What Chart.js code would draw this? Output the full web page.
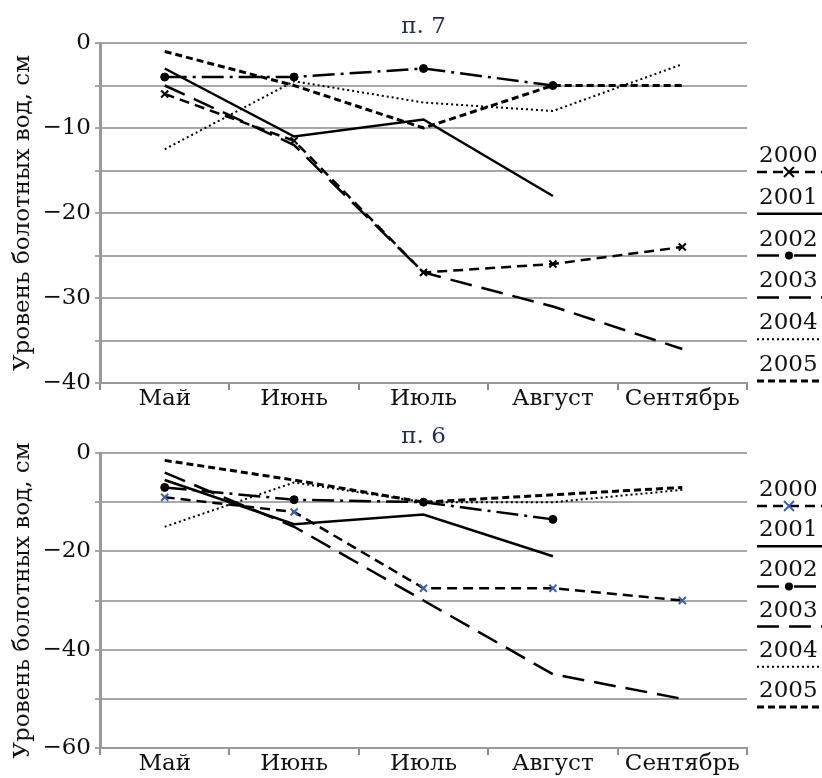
<!DOCTYPE html>
<html lang="ru">
<head>
<meta charset="UTF-8">
<title>Уровень болотных вод</title>
<script src="https://cdn.jsdelivr.net/npm/chart.js"></script>
<style>
  body { margin: 0; background: #fff; }
  .box { position: relative; width: 822px; }
</style>
</head>
<body>
<div class="box" style="height:412px"><canvas id="chart7"></canvas></div>
<div class="box" style="height:366px"><canvas id="chart6"></canvas></div>

<script>
// месяцы и годы
const months = ['Май', 'Июнь', 'Июль', 'Август', 'Сентябрь'];
const years = ['2000', '2001', '2002', '2003', '2004', '2005'];

// п. 7
const p7_2000 = [-6, -11.5, -27, -26, -24];
const p7_2001 = [-3, -11, -9, -18, null];
const p7_2002 = [-4, -4, -3, -5, null];
const p7_2003 = [-5, -12, -27, -31, -36];
const p7_2004 = [-12.5, -4.5, -7, -8, -2.5];
const p7_2005 = [-1, -5, -10, -5, -5];

// п. 6
const p6_2000 = [-9, -12, -27.5, -27.5, -30];
const p6_2001 = [-5.5, -14.5, -12.5, -21, null];
const p6_2002 = [-7, -9.5, -10, -13.5, null];
const p6_2003 = [-4, -15, -30, -45, -50];
const p6_2004 = [-15, -6, -10, -10, -7.5];
const p6_2005 = [-1.5, -5.5, -10, -8.5, -7];

const yTitle = 'Уровень болотных вод, см';
const FONT = '"DejaVu Serif", "Liberation Serif", serif';
const FS = 23;

// стиль линии для каждого года
function styleFor(i, markColor) {
    const s = [
        { borderDash: [10, 6], borderWidth: 2.5, pointStyle: 'crossRot', pointRadius: 5, pointBorderColor: markColor, pointBorderWidth: 2 },
        { borderDash: [], borderWidth: 2.5, pointRadius: 0 },
        { borderDash: [22, 6, 3, 6], borderWidth: 2.5, pointStyle: 'circle', pointRadius: 4, pointBorderColor: '#000', pointBackgroundColor: '#000', pointBorderWidth: 1 },
        { borderDash: [22, 10], borderWidth: 2.5, pointRadius: 0 },
        { borderDash: [2, 3], borderWidth: 2, pointRadius: 0 },
        { borderDash: [7, 4], borderWidth: 3, pointRadius: 0 }
    ];
    return s[i];
}

function drawMarker(ctx, style, r, x, y, color) {
    ctx.save();
    ctx.setLineDash([]);
    ctx.strokeStyle = color;
    ctx.fillStyle = color;
    ctx.lineWidth = 2;
    if (style === 'crossRot') {
        ctx.beginPath();
        ctx.moveTo(x - r, y - r); ctx.lineTo(x + r, y + r);
        ctx.moveTo(x - r, y + r); ctx.lineTo(x + r, y - r);
        ctx.stroke();
    } else {
        ctx.beginPath();
        ctx.arc(x, y, r, 0, Math.PI * 2);
        ctx.fill();
    }
    ctx.restore();
}

// заголовок "п. N" и легенда справа
const decor = {
    id: 'decor',
    afterDraw(chart, args, opts) {
        const ctx = chart.ctx, a = chart.chartArea;
        ctx.save();
        ctx.font = FS + 'px ' + FONT;
        ctx.textBaseline = 'middle';
        ctx.textAlign = 'center';
        ctx.fillStyle = '#1f2a5a';
        ctx.fillText(opts.title, (a.left + a.right) / 2, a.top - 16);

        chart.data.datasets.forEach((ds, i) => {
            const ly = opts.legendTop + i * opts.legendStep;
            ctx.fillStyle = '#111';
            ctx.textAlign = 'left';
            ctx.fillText(ds.label, 759, ly - 16);
            ctx.strokeStyle = '#000';
            ctx.lineWidth = ds.borderWidth;
            ctx.setLineDash(ds.borderDash);
            ctx.beginPath();
            ctx.moveTo(757, ly);
            ctx.lineTo(822, ly);
            ctx.stroke();
            if (ds.pointRadius > 0) {
                drawMarker(ctx, ds.pointStyle, ds.pointRadius, 789, ly, ds.pointBorderColor);
            }
        });
        ctx.restore();
    }
};

function makeChart(id, title, series, yMin, labelStep, markColor, plotTop, axisH, legendTop, legendStep) {
    const datasets = series.map((vals, i) => Object.assign({
        label: years[i],
        data: vals,
        borderColor: '#000',
        backgroundColor: '#000',
        fill: false,
        tension: 0,
        spanGaps: false
    }, styleFor(i, markColor)));

    return new Chart(document.getElementById(id), {
        type: 'line',
        data: { labels: months, datasets: datasets },
        plugins: [decor],
        options: {
            responsive: true,
            maintainAspectRatio: false,
            animation: false,
            layout: { padding: { top: plotTop, right: 75, left: 0, bottom: 0 } },
            plugins: {
                legend: { display: false },
                tooltip: { enabled: false },
                decor: { title: title, legendTop: legendTop, legendStep: legendStep }
            },
            scales: {
                x: {
                    offset: true,
                    afterFit(s) { s.height = axisH; },
                    grid: { offset: true, drawOnChartArea: false, drawTicks: true, tickLength: 7, color: '#8c8c8c', lineWidth: 2 },
                    border: { color: '#9a9a9a', width: 2 },
                    ticks: { color: '#111', font: { family: FONT, size: FS }, padding: -5, maxRotation: 0, autoSkip: false }
                },
                y: {
                    min: yMin,
                    max: 0,
                    afterFit(s) { s.width = 100; },
                    grid: { color: '#a8a8a8', lineWidth: 2, drawTicks: true, tickLength: 5 },
                    border: { color: '#9a9a9a', width: 3 },
                    ticks: {
                        stepSize: labelStep / 2,
                        autoSkip: false,
                        color: '#111',
                        font: { family: FONT, size: FS },
                        padding: 4,
                        callback: function (v) {
                            if (v % labelStep !== 0) return '';
                            return v === 0 ? '0' : '\u2212' + Math.abs(v);
                        }
                    },
                    title: {
                        display: true,
                        text: yTitle,
                        color: '#111',
                        font: { family: FONT, size: FS },
                        padding: { top: 9, bottom: 0 }
                    }
                }
            }
        }
    });
}

makeChart('chart7', 'п. 7',
    [p7_2000, p7_2001, p7_2002, p7_2003, p7_2004, p7_2005],
    -40, 10, '#000', 43, 29, 172, 41.8);

makeChart('chart6', 'п. 6',
    [p6_2000, p6_2001, p6_2002, p6_2003, p6_2004, p6_2005],
    -60, 20, '#3b62b0', 41, 30, 94, 40.2);
</script>
</body>
</html>
